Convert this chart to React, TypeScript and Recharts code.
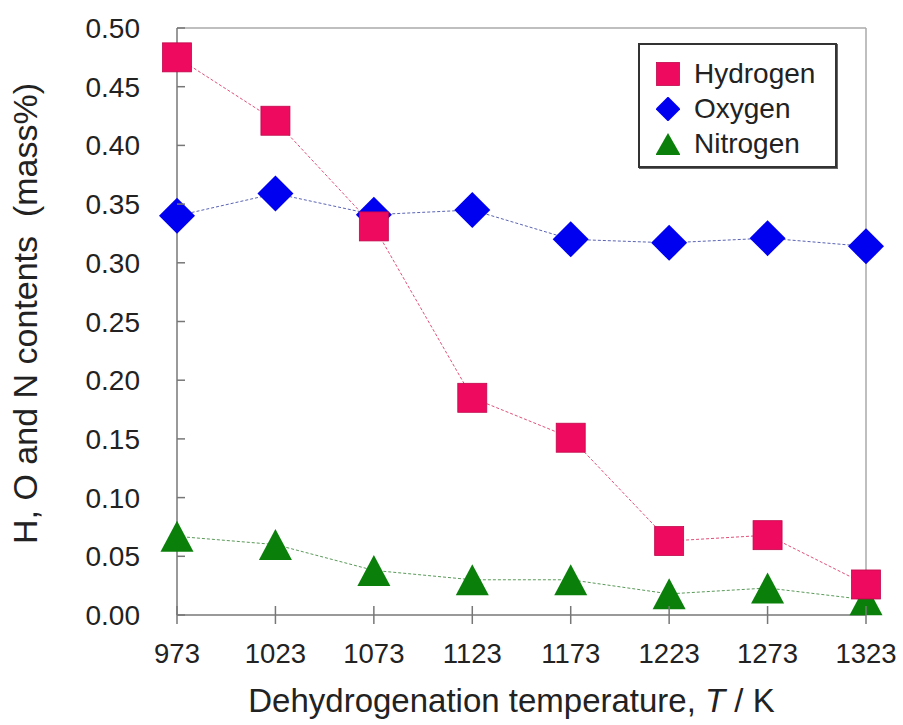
import { LineChart, Line, XAxis, YAxis, Legend, ReferenceLine } from 'recharts'

const temperatures = ['973', '1023', '1073', '1123', '1173', '1223', '1273', '1323']
const hydrogen = [0.475, 0.421, 0.331, 0.185, 0.151, 0.063, 0.068, 0.026]
const oxygen = [0.340, 0.359, 0.341, 0.345, 0.320, 0.317, 0.321, 0.314]
const nitrogen = [0.067, 0.060, 0.038, 0.030, 0.030, 0.018, 0.023, 0.013]
const yTicks = [0, 0.05, 0.1, 0.15, 0.2, 0.25, 0.3, 0.35, 0.4, 0.45, 0.5]

const data = temperatures.map((t, i) => ({
  temp: t,
  hydrogen: hydrogen[i],
  oxygen: oxygen[i],
  nitrogen: nitrogen[i],
}))

const FONT = '"Liberation Sans", Arial, sans-serif'
const PINK = '#ee0a5e'
const BLUE = '#0000f0'
const GREEN = '#0a800a'

const Square = ({ cx, cy, size = 29 }: any) => (
  <rect x={cx - size / 2} y={cy - size / 2} width={size} height={size} fill={PINK} stroke="#c0084c" strokeWidth={0.8} />
)
const Diamond = ({ cx, cy, size = 36 }: any) => {
  const h = size / 2
  return <path d={`M${cx},${cy - h}L${cx + h},${cy}L${cx},${cy + h}L${cx - h},${cy}Z`} fill={BLUE} />
}
const Triangle = ({ cx, cy, w = 33, h = 31 }: any) => (
  <path d={`M${cx},${cy - h / 2}L${cx + w / 2},${cy + h / 2}L${cx - w / 2},${cy + h / 2}Z`} fill={GREEN} />
)

const XTick = ({ x, y, payload }: any) => (
  <g>
    <line x1={x} x2={x} y1={y - 9} y2={y + 9} stroke="#777" strokeWidth={1.5} />
    <text x={x} y={y + 48} textAnchor="middle" fontSize={27.5} fill="#222" fontFamily={FONT}>
      {payload.value}
    </text>
  </g>
)

const YTick = ({ x, y, payload }: any) => (
  <g>
    <line x1={x} x2={x + 8} y1={y} y2={y} stroke="#777" strokeWidth={1.5} />
    <text x={x - 37} y={y} dy="0.36em" textAnchor="end" fontSize={28} fill="#222" fontFamily={FONT}>
      {Number(payload.value).toFixed(2)}
    </text>
  </g>
)

const legendItems = [
  { name: 'Hydrogen', icon: <Square cx={12} cy={12} size={23} /> },
  { name: 'Oxygen', icon: <Diamond cx={12} cy={12} size={25} /> },
  { name: 'Nitrogen', icon: <Triangle cx={12} cy={12} w={25} h={22} /> },
]

const LegendBox = () => (
  <div
    style={{
      width: 199,
      height: 125,
      boxSizing: 'border-box',
      border: '2px solid #333',
      boxShadow: '1px 1px 0 #666',
      background: '#fff',
      paddingTop: 11,
      fontFamily: FONT,
      fontSize: 28,
      color: '#222',
    }}
  >
    {legendItems.map((it) => (
      <div key={it.name} style={{ display: 'flex', alignItems: 'center', height: 35 }}>
        <svg width={24} height={24} style={{ marginLeft: 16, marginRight: 14 }}>
          {it.icon}
        </svg>
        <span>{it.name}</span>
      </div>
    ))}
  </div>
)

export default function App() {
  return (
    <div style={{ position: 'absolute', left: 0, top: 0, width: 903, height: 725, background: '#fff' }}>
      <LineChart width={903} height={725} data={data} margin={{ top: 28, right: 37, left: 0, bottom: 0 }}>
        <XAxis
          dataKey="temp"
          height={110}
          tickSize={0}
          tickMargin={0}
          tick={<XTick />}
          tickLine={false}
          axisLine={{ stroke: '#777', strokeWidth: 1.5 }}
          interval={0}
          label={{
            content: ({ viewBox }: any) => (
              <text x={viewBox.x + viewBox.width / 2 - 10} y={viewBox.y + 97} textAnchor="middle" fontSize={33} fill="#222" fontFamily={FONT}>
                Dehydrogenation temperature, <tspan fontStyle="italic">T</tspan> / K
              </text>
            ),
          }}
        />
        <YAxis
          width={177}
          domain={[0, 0.5]}
          ticks={yTicks}
          tickSize={0}
          tickMargin={0}
          tick={<YTick />}
          tickLine={false}
          axisLine={{ stroke: '#777', strokeWidth: 1.5 }}
          label={{
            content: ({ viewBox }: any) => {
              const cy = viewBox.y + viewBox.height / 2 - 8
              return (
                <text x={37} y={cy} transform={`rotate(-90, 37, ${cy})`} textAnchor="middle" fontSize={34} fill="#222" fontFamily={FONT} xmlSpace="preserve">
                  H, O and N contents  (mass%)
                </text>
              )
            },
          }}
        />
        <ReferenceLine y={0.5} stroke="#aaa" strokeWidth={1.5} />
        <ReferenceLine x="1323" stroke="#aaa" strokeWidth={1.5} />
        <Legend
          layout="horizontal"
          verticalAlign="middle"
          align="center"
          content={<LegendBox />}
          wrapperStyle={{ left: 638, top: 43, width: 199, height: 125 }}
        />
        <Line
          dataKey="nitrogen"
          stroke="#5a9a5a"
          strokeWidth={1}
          strokeDasharray="3 2"
          isAnimationActive={false}
          activeDot={false}
          dot={(p: any) => <Triangle key={`n${p.index}`} cx={p.cx} cy={p.cy} />}
        />
        <Line
          dataKey="oxygen"
          stroke="#5a64b4"
          strokeWidth={1}
          strokeDasharray="3 2"
          isAnimationActive={false}
          activeDot={false}
          dot={(p: any) => <Diamond key={`o${p.index}`} cx={p.cx} cy={p.cy} />}
        />
        <Line
          dataKey="hydrogen"
          stroke="#e0507a"
          strokeWidth={1}
          strokeDasharray="3 2"
          isAnimationActive={false}
          activeDot={false}
          dot={(p: any) => <Square key={`h${p.index}`} cx={p.cx} cy={p.cy} />}
        />
      </LineChart>
    </div>
  )
}
